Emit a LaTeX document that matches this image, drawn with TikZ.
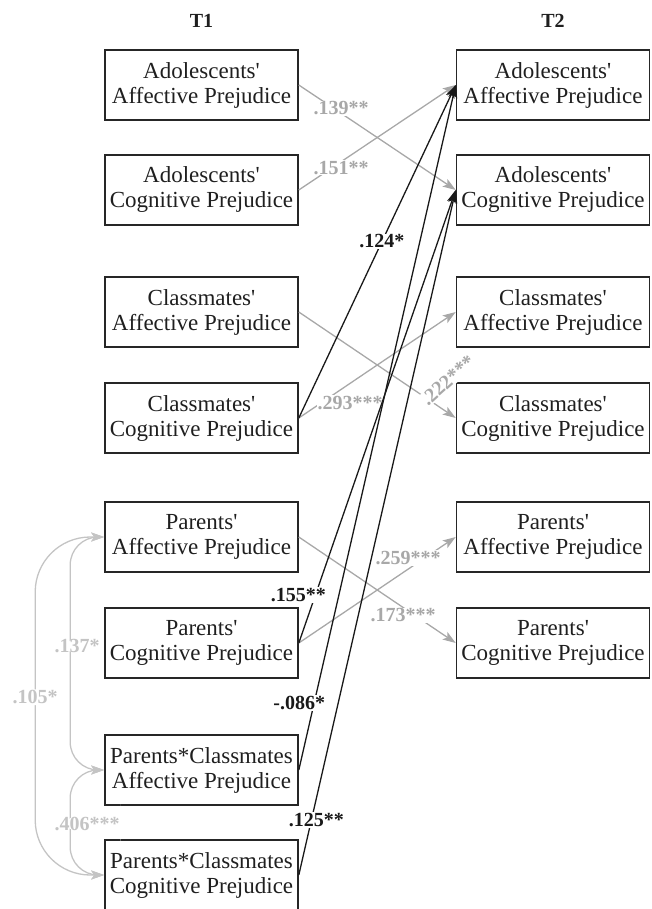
\documentclass[tikz,border=0pt]{standalone}
\usepackage{fontspec}
\setmainfont{Liberation Serif}[Ligatures=TeXOff]
\usetikzlibrary{arrows.meta}
\definecolor{pathgray}{gray}{0.66}
\definecolor{corrgray}{gray}{0.77}
\definecolor{boxline}{gray}{0.15}

\begin{document}
\begin{tikzpicture}[x=1pt, y=-1pt,
	var/.style={draw=boxline, line width=1.6pt, minimum width=193pt, minimum height=70pt, inner sep=0pt, align=center, text=black!88, font=\fontsize{23}{25}\selectfont},
	tlabel/.style={font=\fontsize{20}{24}\selectfont\bfseries, text=black!88},
	coef/.style={font=\fontsize{20}{22}\selectfont\bfseries, fill=white, inner sep=1pt, text=black!90},
	gcoef/.style={coef, text=pathgray},
	ccoef/.style={coef, text=corrgray},
	blackarr/.style={draw=black!90, line width=1.3pt, -{Stealth[length=13pt, width=9pt, inset=3pt]}},
	grayarr/.style={draw=pathgray, line width=1.3pt, -{Stealth[length=13pt, width=9pt, inset=3pt]}},
	corr/.style={draw=corrgray, line width=1.3pt, {Stealth[length=13pt, width=9pt, inset=3pt]}-{Stealth[length=13pt, width=9pt, inset=3pt]}, rounded corners=28pt}]
	\useasboundingbox (0,0) rectangle (651,909);
	\node[tlabel] (t1) at (201.5,21) {T1};
	\node[tlabel] (t2) at (553,21) {T2};
	% T1
	\node[var] (adAff1) at (201.5,85) {Adolescents'\\Affective Prejudice};
	\node[var] (adCog1) at (201.5,190) {Adolescents'\\Cognitive Prejudice};
	\node[var] (clAff1) at (201.5,312) {Classmates'\\Affective Prejudice};
	\node[var] (clCog1) at (201.5,418) {Classmates'\\Cognitive Prejudice};
	\node[var] (paAff1) at (201.5,537) {Parents'\\Affective Prejudice};
	\node[var] (paCog1) at (201.5,643) {Parents'\\Cognitive Prejudice};
	\node[var] (pcAff1) at (201.5,770) {Parents*Classmates\\Affective Prejudice};
	\node[var] (pcCog1) at (201.5,875) {Parents*Classmates\\Cognitive Prejudice};
	% T2
	\node[var] (adAff2) at (553,85) {Adolescents'\\Affective Prejudice};
	\node[var] (adCog2) at (553,190) {Adolescents'\\Cognitive Prejudice};
	\node[var] (clAff2) at (553,312) {Classmates'\\Affective Prejudice};
	\node[var] (clCog2) at (553,418) {Classmates'\\Cognitive Prejudice};
	\node[var] (paAff2) at (553,537) {Parents'\\Affective Prejudice};
	\node[var] (paCog2) at (553,643) {Parents'\\Cognitive Prejudice};
	% correlations
	\draw[corr] (paAff1.west) -- ++(-34,0) |- node[ccoef, pos=0.234, xshift=7pt] {.137*} (pcAff1.west);
	\draw[corr, rounded corners=55pt] (paAff1.west) -- ++(-69,0) |- node[ccoef, pos=0.237] {.105*} (pcCog1.west);
	\draw[corr] (pcAff1.west) -- ++(-34,0) |- node[ccoef, pos=0.255, xshift=17pt] {.406***} (pcCog1.west);
	% cross-lagged paths
	\draw[grayarr] (adAff1.east) -- node[gcoef, pos=0.27, yshift=5pt] {.139**} (adCog2.west);
	\draw[grayarr] (adCog1.east) -- node[gcoef, pos=0.27, yshift=-6pt] {.151**} (adAff2.west);
	\draw[grayarr] (clAff1.east) -- node[gcoef, pos=0.88, xshift=11pt, yshift=25pt, rotate=42] {.222***} (clCog2.west);
	\draw[grayarr] (clCog1.east) -- node[gcoef, pos=0.2, xshift=20pt, yshift=-6pt] {.293***} (clAff2.west);
	\draw[grayarr] (paAff1.east) -- node[gcoef, pos=0.665, yshift=-8pt] {.173***} (paCog2.west);
	\draw[grayarr] (paCog1.east) -- node[gcoef, pos=0.696, yshift=11pt] {.259***} (paAff2.west);
	\draw[blackarr] (clCog1.east) -- node[coef, pos=0.53] {.124*} (adAff2.west);
	\draw[blackarr] (paCog1.east) -- node[coef, pos=0.106, xshift=-17pt] {.155**} (adCog2.west);
	\draw[blackarr] (pcAff1.east) -- node[coef, pos=0.098, xshift=-15pt] {-.086*} (adAff2.west);
	\draw[blackarr] (pcCog1.east) -- node[coef, pos=0.08, xshift=5pt] {.125**} (adCog2.west);
\end{tikzpicture}
\end{document}
